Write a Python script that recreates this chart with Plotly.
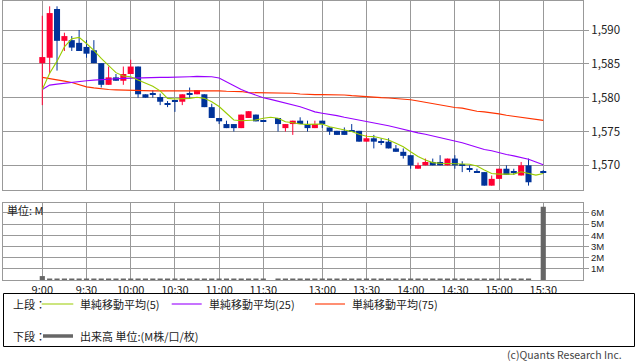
import plotly.graph_objects as go

# ---------------- data ----------------
tick_pos = [0, 6, 12, 18, 24, 30, 38, 44, 50, 56, 62, 68]
tick_labels = ["9:00", "9:30", "10:00", "10:30", "11:00", "11:30",
               "13:00", "13:30", "14:00", "14:30", "15:00", "15:30"]

opens = [1585.1, 1585.9, 1593.1, 1588.4, 1588.5, 1588.1, 1587.5, 1587.0, 1585.1, 1581.9,
         1583.0, 1582.5, 1583.5, 1584.6, 1580.5, 1580.5, 1580.1, 1579.1, 1579.5, 1579.4,
         1580.5, 1580.5, 1580.5, 1578.6, 1577.0, 1576.1, 1576.1, 1575.5, 1577.0, 1577.5,
         1576.6, None, 1577.0, 1575.5, 1576.1, 1576.6, 1576.1, 1575.5, 1576.6, 1575.6,
         1575.1, 1575.1, 1575.1, 1575.1, 1573.5, 1574.0, 1573.5, 1573.5, 1572.5, 1572.0,
         1571.5, 1569.5, 1570.0, 1570.5, 1570.5, 1570.0, 1571.0, 1570.0, 1569.5, 1569.0,
         1569.0, 1567.0, 1568.0, 1569.5, 1569.0, 1568.5, 1570.0, None, 1569.0]
highs = [1592.1, 1593.5, 1593.5, 1589.6, 1589.1, 1590.0, 1588.5, 1588.5, 1585.1, 1584.6,
         1583.5, 1584.6, 1585.6, 1584.6, 1580.5, 1581.1, 1580.6, 1579.5, 1579.5, 1580.5,
         1581.5, 1581.1, 1580.5, 1579.1, 1577.0, 1576.6, 1576.1, 1577.5, 1578.0, 1577.5,
         1576.6, None, 1577.0, 1576.1, 1576.6, 1577.1, 1576.6, 1576.6, 1576.6, 1575.6,
         1575.1, 1575.6, 1576.1, 1575.1, 1574.5, 1574.5, 1574.0, 1574.0, 1573.0, 1572.5,
         1571.5, 1570.4, 1571.0, 1571.0, 1571.5, 1571.0, 1571.5, 1570.6, 1570.0, 1569.5,
         1569.0, 1568.5, 1569.5, 1570.0, 1569.5, 1570.5, 1571.0, None, 1569.3]
lows = [1578.9, 1583.6, 1584.0, 1586.9, 1586.9, 1586.9, 1585.9, 1585.1, 1581.5, 1581.9,
        1582.5, 1581.9, 1583.5, 1580.0, 1580.0, 1580.0, 1578.9, 1578.6, 1577.9, 1578.9,
        1580.0, 1580.5, 1578.6, 1577.0, 1576.1, 1575.5, 1575.0, 1575.5, 1577.0, 1576.5,
        1576.6, None, 1575.0, 1575.0, 1574.5, 1576.1, 1575.0, 1575.5, 1575.5, 1574.5,
        1574.5, 1574.5, 1575.1, 1573.5, 1573.5, 1572.5, 1573.0, 1572.5, 1572.0, 1571.0,
        1569.5, 1569.5, 1570.0, 1570.0, 1570.0, 1570.0, 1569.5, 1569.0, 1569.0, 1569.0,
        1567.0, 1567.0, 1568.0, 1568.6, 1568.6, 1568.5, 1567.0, None, 1568.8]
closes = [1586.0, 1592.5, 1588.4, 1589.1, 1587.4, 1586.9, 1586.5, 1585.1, 1581.9, 1583.0,
          1582.5, 1583.5, 1584.6, 1580.5, 1580.0, 1580.5, 1579.4, 1579.1, 1579.5, 1580.5,
          1580.5, 1581.1, 1578.6, 1577.0, 1576.5, 1575.5, 1575.5, 1577.5, 1578.0, 1576.5,
          1576.6, None, 1576.1, 1576.1, 1576.6, 1576.1, 1575.5, 1576.1, 1576.1, 1575.0,
          1574.5, 1574.5, 1575.1, 1573.5, 1574.0, 1573.5, 1573.5, 1572.5, 1572.0, 1571.4,
          1570.0, 1570.0, 1570.5, 1570.0, 1570.0, 1571.0, 1570.0, 1570.0, 1569.5, 1569.0,
          1567.0, 1568.0, 1569.5, 1568.6, 1569.0, 1570.0, 1567.5, None, 1569.0]

ma5 = [1581.2, 1583.6, 1585.4, 1587.5, 1588.7, 1588.9, 1588.0, 1587.0, 1585.8, 1584.8,
       1583.7, 1583.2, 1583.1, 1582.6, 1582.2, 1581.7, 1581.0, 1579.9, 1579.8, 1579.8,
       1579.9, 1580.05, 1579.9, 1579.4, 1578.7, 1577.7, 1576.7, 1576.6, 1576.7, 1576.7,
       1576.95, 1577.1, 1576.95, 1576.45, 1576.3, 1576.1, 1576.05, 1576.05, 1576.1, 1575.7,
       1575.45, 1575.2, 1575.0, 1574.6, 1574.3, 1574.25, 1574.0, 1573.75, 1573.25, 1572.75,
       1572.0, 1571.3, 1570.8, 1570.4, 1570.3, 1570.3, 1570.2, 1570.2, 1570.15, 1569.9,
       1569.3, 1568.8, 1568.7, 1568.65, 1568.7, 1569.05, 1568.8, 1568.55, 1568.8]
ma25 = [1581.2, 1581.85, 1582.0, 1582.15, 1582.25, 1582.35, 1582.5, 1582.6, 1582.7, 1582.75,
        1582.8, 1582.85, 1582.9, 1582.95, 1583.0, 1583.0, 1583.0, 1583.0, 1583.0, 1583.05,
        1583.1, 1583.15, 1583.15, 1583.1, 1582.9, 1582.35, 1581.7, 1581.2, 1580.75, 1580.35,
        1580.0, 1579.75, 1579.5, 1579.15, 1578.9, 1578.65, 1578.3, 1577.9, 1577.7, 1577.55,
        1577.35, 1577.1, 1576.9, 1576.75, 1576.55, 1576.3, 1576.05, 1575.85, 1575.6, 1575.3,
        1575.05, 1574.8, 1574.6, 1574.35, 1574.15, 1573.85, 1573.55, 1573.35, 1573.0, 1572.65,
        1572.35, 1572.15, 1571.85, 1571.6, 1571.4, 1571.2, 1570.9, 1570.5, 1570.1]
ma75 = [1583.0, 1582.85, 1582.6, 1582.45, 1582.25, 1581.9, 1581.6, 1581.45, 1581.3, 1581.2,
        1581.15, 1581.1, 1581.05, 1581.0, 1581.0, 1581.0, 1581.0, 1581.0, 1581.0, 1581.0,
        1581.05, 1581.1, 1581.1, 1581.1, 1581.0, 1580.95, 1580.95, 1580.9, 1580.75, 1580.75,
        1580.65, 1580.65, 1580.65, 1580.65, 1580.65, 1580.55, 1580.45, 1580.45, 1580.45, 1580.45,
        1580.4, 1580.4, 1580.3, 1580.2, 1580.15, 1580.1, 1580.0, 1579.95, 1579.9, 1579.8,
        1579.7, 1579.5, 1579.3, 1579.1, 1578.9, 1578.7, 1578.55, 1578.45, 1578.2, 1578.0,
        1577.9, 1577.8, 1577.6, 1577.4, 1577.25, 1577.15, 1577.0, 1576.8, 1576.65]

volume_m = [0.35, 0.1, 0.1, 0.08, 0.08, 0.08, 0.08, 0.08, 0.08, 0.08,
            0.08, 0.08, 0.08, 0.08, 0.08, 0.08, 0.08, 0.08, 0.08, 0.08,
            0.08, 0.08, 0.08, 0.08, 0.08, 0.08, 0.08, 0.08, 0.08, 0.08,
            0.08, None, 0.12, 0.08, 0.08, 0.08, 0.08, 0.08, 0.08, 0.12,
            0.08, 0.08, 0.08, 0.08, 0.08, 0.08, 0.08, 0.08, 0.08, 0.08,
            0.12, 0.08, 0.08, 0.08, 0.08, 0.08, 0.08, 0.08, 0.08, 0.08,
            0.08, 0.08, 0.08, 0.08, 0.08, 0.08, 0.12, None, 6.55]

price_ticks = [1570, 1575, 1580, 1585, 1590]
vol_ticks = [1, 2, 3, 4, 5, 6]
vol_tick_labels = ["1M", "2M", "3M", "4M", "5M", "6M"]

# ---------------- styling ----------------
UP = "#ff0033"
DOWN = "#003399"
C_MA5 = "#99cc00"
C_MA25 = "#9900ff"
C_MA75 = "#ff3300"
VOLC = "#666666"
GRID = "#999999"
TXT = "#222222"
FONT = "Noto Sans CJK JP"

W, H = 638, 362
ML, MR, MT, MB = 3, 55, 1, 82
PW, PH = W - ML - MR, H - MT - MB
BOTTOM_PX = H - MB


def px_x(p):
    return (p - ML) / PW


def px_y(p):
    return (BOTTOM_PX - p) / PH


idx = list(range(len(opens)))

# candle bodies & wicks built from OHLC arrays
body_x, body_base, body_h, body_col = [], [], [], []
wick = {UP: ([], []), DOWN: ([], [])}
for i in idx:
    o, h, l, c = opens[i], highs[i], lows[i], closes[i]
    if o is None:
        continue
    col = UP if c > o else DOWN
    lo, hi = min(o, c), max(o, c)
    if hi - lo < 0.15:
        mid = (hi + lo) / 2
        lo, hi = mid - 0.08, mid + 0.08
    body_x.append(i)
    body_base.append(lo)
    body_h.append(hi - lo)
    body_col.append(col)
    wx, wy = wick[col]
    wx += [i, i, None]
    wy += [l, h, None]

fig = go.Figure()

for col in (UP, DOWN):
    fig.add_trace(go.Scatter(x=wick[col][0], y=wick[col][1], mode="lines",
                             line=dict(color=col, width=1), xaxis="x", yaxis="y",
                             hoverinfo="skip"))

fig.add_trace(go.Bar(x=body_x, y=body_h, base=body_base, width=0.82,
                     marker=dict(color=body_col, line=dict(width=0)),
                     xaxis="x", yaxis="y"))

for ser, col in ((ma75, C_MA75), (ma25, C_MA25), (ma5, C_MA5)):
    fig.add_trace(go.Scatter(x=idx, y=ser, mode="lines",
                             line=dict(color=col, width=1.1),
                             xaxis="x", yaxis="y"))

fig.add_trace(go.Bar(x=idx, y=volume_m, width=0.7,
                     marker=dict(color=VOLC, line=dict(width=0)),
                     xaxis="x2", yaxis="y2"))

x_range = [(ML - 42.3) / 7.367, (ML + PW - 42.3) / 7.367]
upper_dom = [px_y(190), 1.0]
lower_dom = [0.0, px_y(202.5)]


def price_at(pix):
    return 1590 - (pix - 30) / 6.767


common_x = dict(range=x_range, tickvals=tick_pos, ticktext=tick_labels,
                showgrid=True, gridcolor=GRID, gridwidth=1, zeroline=False,
                showline=True, mirror=True, linecolor=GRID, linewidth=1,
                fixedrange=True)

fig.update_layout(
    width=W, height=H,
    margin=dict(l=ML, r=MR, t=MT, b=MB, autoexpand=False),
    paper_bgcolor="white", plot_bgcolor="white",
    showlegend=False, hovermode=False, barmode="overlay",
    font=dict(family=FONT, size=11, color=TXT),
    xaxis=dict(common_x, anchor="y", domain=[0, 1], showticklabels=False, ticks=""),
    xaxis2=dict(common_x, anchor="y2", domain=[0, 1], showticklabels=True, ticks="",
                tickfont=dict(family=FONT, size=11, color=TXT)),
    yaxis=dict(domain=upper_dom, range=[price_at(190), price_at(MT)], side="right",
               tickvals=price_ticks, tickformat=",", ticks="outside", ticklen=5,
               tickcolor=GRID, showgrid=True, gridcolor=GRID, gridwidth=1,
               zeroline=False, showline=True, mirror=True, linecolor=GRID,
               tickfont=dict(family=FONT, size=11.5, color=TXT), fixedrange=True),
    yaxis2=dict(domain=lower_dom, range=[0, (BOTTOM_PX - 202.5) / 11.2], side="right",
                tickvals=vol_ticks, ticktext=vol_tick_labels, ticks="outside", ticklen=5,
                tickcolor=GRID, showgrid=True, gridcolor=GRID, gridwidth=1,
                zeroline=False, showline=True, mirror=True, linecolor=GRID,
                tickfont=dict(family="Liberation Sans", size=9.5, color=TXT),
                fixedrange=True),
)

# ---------------- legend block (drawn manually) ----------------
shapes = [
    dict(type="rect", xref="paper", yref="paper",
         x0=px_x(3.5), x1=px_x(634.5), y0=px_y(346.5), y1=px_y(293.5),
         line=dict(color="#000000", width=1), fillcolor="rgba(0,0,0,0)"),
]
legend_rows = [
    (41.7, 73.3, 304, C_MA5, 1.1),
    (171.7, 201.7, 304, C_MA25, 1.1),
    (315, 345, 304, C_MA75, 1.1),
    (43, 73, 336, VOLC, 3.5),
]
for x0, x1, yy, col, w in legend_rows:
    shapes.append(dict(type="line", xref="paper", yref="paper",
                       x0=px_x(x0), x1=px_x(x1), y0=px_y(yy), y1=px_y(yy),
                       line=dict(color=col, width=w)))

annos = []
for txt, x, yy in (("上段：", 11, 304), ("単純移動平均(5)", 78, 304),
                   ("単純移動平均(25)", 207, 304), ("単純移動平均(75)", 350, 304),
                   ("下段：", 11, 336), ("出来高 単位:(M株/口/枚)", 78, 336),
                   ("単位: M", 5, 210)):
    annos.append(dict(text=txt, xref="paper", yref="paper", x=px_x(x), y=px_y(yy),
                      xanchor="left", yanchor="middle", showarrow=False,
                      font=dict(family=FONT, size=11, color=TXT)))
annos.append(dict(text="(c)Quants Research Inc.", xref="paper", yref="paper",
                  x=px_x(624), y=px_y(354.5), xanchor="right", yanchor="middle",
                  showarrow=False, font=dict(family=FONT, size=10.5, color="#444444")))

fig.update_layout(shapes=shapes, annotations=annos)

fig.write_html("out.html", config={"displayModeBar": False},
               post_script="document.body.style.margin='0';document.body.style.padding='0';")
